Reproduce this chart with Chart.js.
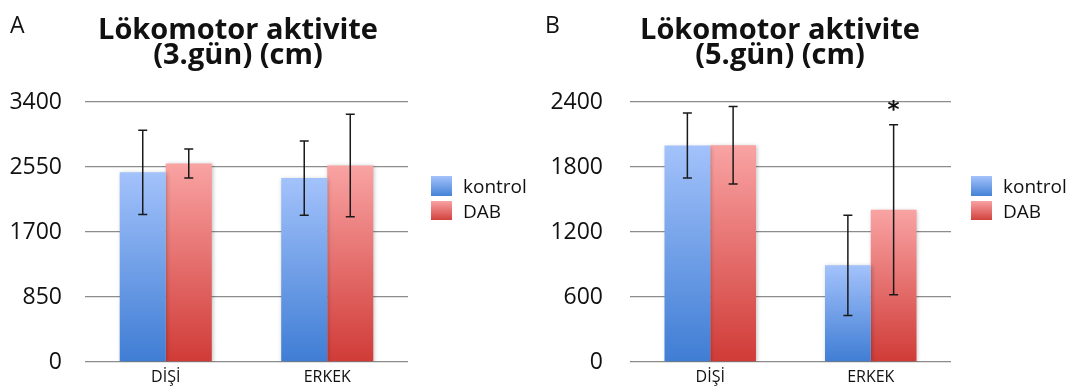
<!DOCTYPE html>
<html>
<head>
<meta charset="utf-8">
<script src="https://cdn.jsdelivr.net/npm/chart.js@4"></script>
<style>
  html, body { margin: 0; padding: 0; background: #fff; }
  body { width: 1078px; height: 389px; position: relative; overflow: hidden; font-family: "Open Sans", "DejaVu Sans", sans-serif; }
  .panel { position: absolute; top: 0; width: 539px; height: 389px; }
  .panel canvas { position: absolute; left: 0; top: 0; }
  .letter { position: absolute; top: 8px; font-size: 23px; color: #111; }
  .title { position: absolute; top: 15px; width: 360px; text-align: center; font-weight: bold; font-size: 29px; line-height: 25px; color: #111; }
  .legend { position: absolute; font-size: 19px; color: #111; }
  .legend .row { position: relative; height: 24.5px; line-height: 21px; padding-left: 32px; }
  .legend .sw { position: absolute; left: 0; top: 0; width: 21px; height: 19.5px; }
</style>
</head>
<body>
<div class="panel" id="pA" style="left:0">
  <canvas id="cA" width="539" height="389"></canvas>
  <div class="letter" style="left:10px">A</div>
  <div class="title" style="left:58px">Lökomotor aktivite<br>(3.gün) (cm)</div>
  <div class="legend" style="left:431px; top:176px">
    <div class="row"><span class="sw" style="background:linear-gradient(#a3c2fb,#4582d6)"></span>kontrol</div>
    <div class="row"><span class="sw" style="background:linear-gradient(#f8a2a2,#d2423e)"></span>DAB</div>
  </div>
</div>
<div class="panel" id="pB" style="left:539px">
  <canvas id="cB" width="539" height="389"></canvas>
  <div class="letter" style="left:6px">B</div>
  <div class="title" style="left:61px">Lökomotor aktivite<br>(5.gün) (cm)</div>
  <div class="legend" style="left:432px; top:176px">
    <div class="row"><span class="sw" style="background:linear-gradient(#a3c2fb,#4582d6)"></span>kontrol</div>
    <div class="row"><span class="sw" style="background:linear-gradient(#f8a2a2,#d2423e)"></span>DAB</div>
  </div>
</div>
<script>
// ---- data ----
const categories = ['DİŞİ', 'ERKEK'];
const seriesNames = ['kontrol', 'DAB'];

// Panel A: 3rd day
const day3Kontrol = [2480, 2405];
const day3DAB = [2597, 2571];
const day3KontrolErr = [550, 485];
const day3DABErr = [190, 670];
const day3Ticks = [0, 850, 1700, 2550, 3400];

// Panel B: 5th day
const day5Kontrol = [1998, 892];
const day5DAB = [2000, 1406];
const day5KontrolErr = [300, 462];
const day5DABErr = [358, 785];
const day5DABSig = ['', '*'];
const day5Ticks = [0, 600, 1200, 1800, 2400];

const blueTop = '#a3c2fb', blueBot = '#3f7dd4';
const redTop = '#f9a3a3', redBot = '#d03b37';

function gradFill(top, bot) {
  return function(ctx) {
    const chart = ctx.chart;
    const ca = chart.chartArea;
    if (!ca || ctx.type !== 'data') return bot;
    const y = chart.scales.y;
    const v = ctx.raw;
    const yt = y.getPixelForValue(v);
    const yb = y.getPixelForValue(0);
    if (!isFinite(yt) || yt === yb) return bot;
    const g = chart.ctx.createLinearGradient(0, yt, 0, yb);
    g.addColorStop(0, top);
    g.addColorStop(1, bot);
    return g;
  };
}

const errorBarPlugin = {
  id: 'errorBars',
  afterDatasetsDraw(chart) {
    const ctx = chart.ctx;
    const yS = chart.scales.y;
    chart.data.datasets.forEach((ds, di) => {
      const meta = chart.getDatasetMeta(di);
      meta.data.forEach((bar, i) => {
        const v = ds.data[i];
        const e = ds.errors ? ds.errors[i] : 0;
        const x = bar.x;
        const yTop = yS.getPixelForValue(v + e);
        const yBot = yS.getPixelForValue(v - e);
        ctx.save();
        ctx.strokeStyle = '#1a1a1a';
        ctx.lineWidth = 1.5;
        ctx.beginPath();
        ctx.moveTo(x, yTop); ctx.lineTo(x, yBot);
        ctx.moveTo(x - 4.5, yTop); ctx.lineTo(x + 4.5, yTop);
        ctx.moveTo(x - 4.5, yBot); ctx.lineTo(x + 4.5, yBot);
        ctx.stroke();
        if (ds.sig && ds.sig[i]) {
          ctx.fillStyle = '#111';
          ctx.font = 'bold 23px "DejaVu Sans", sans-serif';
          ctx.textAlign = 'center';
          ctx.textBaseline = 'middle';
          ctx.fillText(ds.sig[i], x, yTop - 14);
        }
        ctx.restore();
      });
    });
  }
};

const shadowPlugin = {
  id: 'barShadow',
  beforeDatasetsDraw(chart) {
    chart.ctx.save();
    chart.ctx.shadowColor = 'rgba(0,0,0,0.25)';
    chart.ctx.shadowBlur = 4;
    chart.ctx.shadowOffsetX = 1;
    chart.ctx.shadowOffsetY = 1;
  },
  afterDatasetsDraw(chart) {
    chart.ctx.restore();
  }
};

function makeChart(id, kontrol, dab, kErr, dErr, sig, ticks, leftW, tickPad, rightPad) {
  const maxV = ticks[ticks.length - 1];
  return new Chart(document.getElementById(id), {
    type: 'bar',
    data: {
      labels: categories,
      datasets: [
        { label: seriesNames[0], data: kontrol, errors: kErr, backgroundColor: gradFill(blueTop, blueBot), borderWidth: 0 },
        { label: seriesNames[1], data: dab, errors: dErr, sig: sig, backgroundColor: gradFill(redTop, redBot), borderWidth: 0 }
      ]
    },
    options: {
      responsive: false,
      animation: false,
      events: [],
      layout: { padding: { left: 0, right: rightPad, top: 102, bottom: 0 } },
      plugins: { legend: { display: false }, title: { display: false }, tooltip: { enabled: false } },
      datasets: { bar: { categoryPercentage: 0.57, barPercentage: 1.0 } },
      scales: {
        x: {
          grid: { display: false, drawTicks: false },
          border: { display: false },
          ticks: { color: '#111', font: { family: '"Open Sans", "DejaVu Sans", sans-serif', size: 16 }, padding: 6 },
          afterFit(s) { s.height = 27; }
        },
        y: {
          min: 0, max: maxV,
          afterBuildTicks(s) { s.ticks = ticks.map(v => ({ value: v })); },
          grid: { color: '#8c8c8c', lineWidth: 1.3, drawTicks: false },
          border: { display: false },
          ticks: { color: '#111', font: { family: '"Open Sans", "DejaVu Sans", sans-serif', size: 23 }, padding: tickPad, callback: v => String(v) },
          afterFit(s) { s.width = leftW; s.paddingTop = 0; s.paddingBottom = 0; }
        }
      }
    },
    plugins: [shadowPlugin, errorBarPlugin]
  });
}

makeChart('cA', day3Kontrol, day3DAB, day3KontrolErr, day3DABErr, null, day3Ticks, 85, 23, 131);
makeChart('cB', day5Kontrol, day5DAB, day5KontrolErr, day5DABErr, day5DABSig, day5Ticks, 91, 27, 127);
</script>
</body>
</html>
